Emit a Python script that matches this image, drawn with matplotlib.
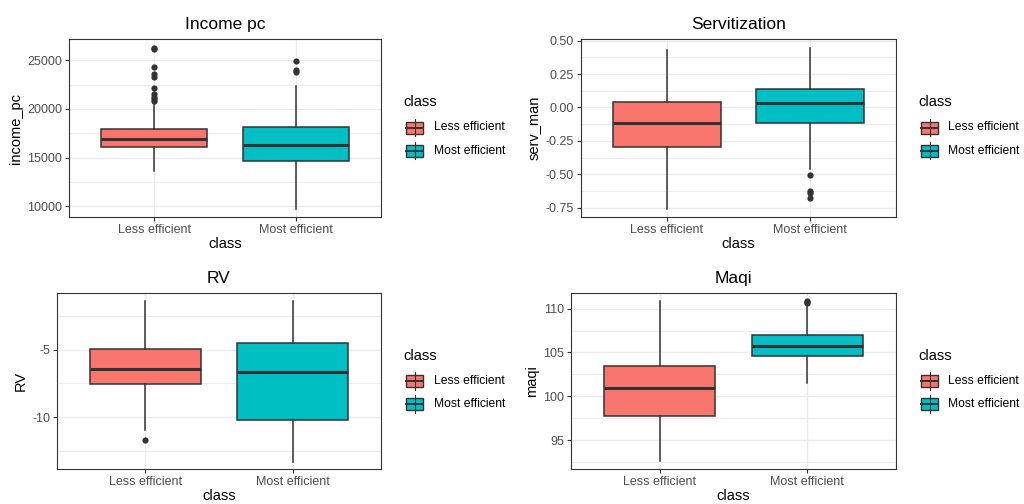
import matplotlib
matplotlib.use("Agg")
import matplotlib.pyplot as plt
from matplotlib.patches import Rectangle
from matplotlib.ticker import MultipleLocator, FormatStrFormatter

plt.rcParams['font.family'] = ['Liberation Sans', 'DejaVu Sans']
plt.rcParams['axes.unicode_minus'] = False

classes = ['Less efficient', 'Most efficient']
fills = ['#F8766D', '#00BFC4']

# income per capita
income_q1 = [16100, 14680]
income_med = [16880, 16260]
income_q3 = [17900, 18140]
income_lo = [13650, 9700]
income_hi = [20500, 22320]
income_out = [[26300, 26150, 24290, 23550, 23250, 22180, 21500, 21250, 21020, 20840],
              [24960, 24000, 23760]]

# servitization
serv_q1 = [-0.298, -0.120]
serv_med = [-0.115, 0.030]
serv_q3 = [0.040, 0.135]
serv_lo = [-0.763, -0.463]
serv_hi = [0.430, 0.445]
serv_out = [[], [-0.505, -0.625, -0.640, -0.678]]

# RV
rv_q1 = [-7.56, -10.22]
rv_med = [-6.43, -6.68]
rv_q3 = [-4.96, -4.51]
rv_lo = [-10.98, -13.29]
rv_hi = [-1.41, -1.41]
rv_out = [[-11.68], []]

# maqi
maqi_q1 = [97.8, 104.58]
maqi_med = [100.99, 105.76]
maqi_q3 = [103.42, 106.96]
maqi_lo = [92.57, 101.5]
maqi_hi = [110.91, 110.3]
maqi_out = [[], [110.9, 110.75, 110.6]]

W, H = 1024, 504
fig = plt.figure(figsize=(W / 100, H / 100), dpi=100)

EDGE = '#333333'
GRID = '#EBEBEB'


def px_axes(left, top, right, bottom):
    return fig.add_axes([left / W, 1 - bottom / H, (right - left) / W, (bottom - top) / H])


def panel(ax, q1, med, q3, lo, hi, out, ylim, major, fmt, title, ylabel):
    stats = []
    for i in range(2):
        stats.append(dict(q1=q1[i], med=med[i], q3=q3[i], whislo=lo[i], whishi=hi[i],
                          fliers=out[i], label=classes[i]))
    bp = ax.bxp(stats, positions=[1, 2], widths=0.75, patch_artist=True, showcaps=False,
                boxprops=dict(edgecolor=EDGE, linewidth=1.1),
                whiskerprops=dict(color=EDGE, linewidth=1.1),
                medianprops=dict(color=EDGE, linewidth=2.2, solid_capstyle='butt'),
                flierprops=dict(marker='o', markersize=4.5, markerfacecolor=EDGE,
                                markeredgecolor='none'))
    for box, c in zip(bp['boxes'], fills):
        box.set_facecolor(c)
    ax.set_xlim(0.4, 2.6)
    ax.set_ylim(*ylim)
    ax.yaxis.set_major_locator(MultipleLocator(major))
    ax.yaxis.set_minor_locator(MultipleLocator(major / 2))
    ax.yaxis.set_major_formatter(FormatStrFormatter(fmt))
    ax.grid(True, which='major', color=GRID, linewidth=1.0, zorder=0)
    ax.grid(True, which='minor', axis='y', color=GRID, linewidth=0.6, zorder=0)
    ax.set_axisbelow(True)
    ax.tick_params(axis='both', which='major', length=3, width=0.8, color=EDGE,
                   labelsize=9, labelcolor='#4D4D4D', pad=2)
    ax.tick_params(axis='y', which='minor', length=0)
    for s in ax.spines.values():
        s.set_color(EDGE)
        s.set_linewidth(0.8)
    ax.set_title(title, fontsize=12.5, pad=7)
    ax.set_xlabel('class', fontsize=10.5, labelpad=1)
    ax.set_ylabel(ylabel, fontsize=10.5, labelpad=3)


ax1 = px_axes(69, 39, 381, 217)
panel(ax1, income_q1, income_med, income_q3, income_lo, income_hi, income_out,
      (8900, 27190), 5000, '%d', 'Income pc', 'income_pc')

ax2 = px_axes(581, 39, 896, 217)
panel(ax2, serv_q1, serv_med, serv_q3, serv_lo, serv_hi, serv_out,
      (-0.8205, 0.5127), 0.25, '%.2f', 'Servitization', 'serv_man')

ax3 = px_axes(57, 293, 381, 469)
panel(ax3, rv_q1, rv_med, rv_q3, rv_lo, rv_hi, rv_out,
      (-13.84, -0.82), 5, '%d', 'RV', 'RV')

ax4 = px_axes(571, 293, 896, 469)
panel(ax4, maqi_q1, maqi_med, maqi_q3, maqi_lo, maqi_hi, maqi_out,
      (91.70, 111.78), 5, '%d', 'Maqi', 'maqi')

# legends drawn on a full-figure overlay in pixel units
ov = fig.add_axes([0, 0, 1, 1], zorder=10)
ov.set_xlim(0, W)
ov.set_ylim(H, 0)
ov.axis('off')


def legend(x, y):
    ov.text(x, y, 'class', fontsize=10.5, va='center', ha='left')
    for i, (lab, c) in enumerate(zip(classes, fills)):
        cy = y + 25 + i * 23
        ov.plot([x + 11.8, x + 11.8], [cy - 8.7, cy + 8.7], color=EDGE, lw=0.8)
        ov.add_patch(Rectangle((x + 3.3, cy - 6), 17, 12, facecolor=c, edgecolor=EDGE, lw=1.0))
        ov.plot([x + 3.3, x + 20.3], [cy, cy], color=EDGE, lw=1.4)
        ov.text(x + 30.5, cy, lab, fontsize=8.7, va='center', ha='left')


legend(403, 102.5)
legend(918, 102.5)
legend(403, 356)
legend(918, 356)

fig.savefig('out.png', dpi=100)
